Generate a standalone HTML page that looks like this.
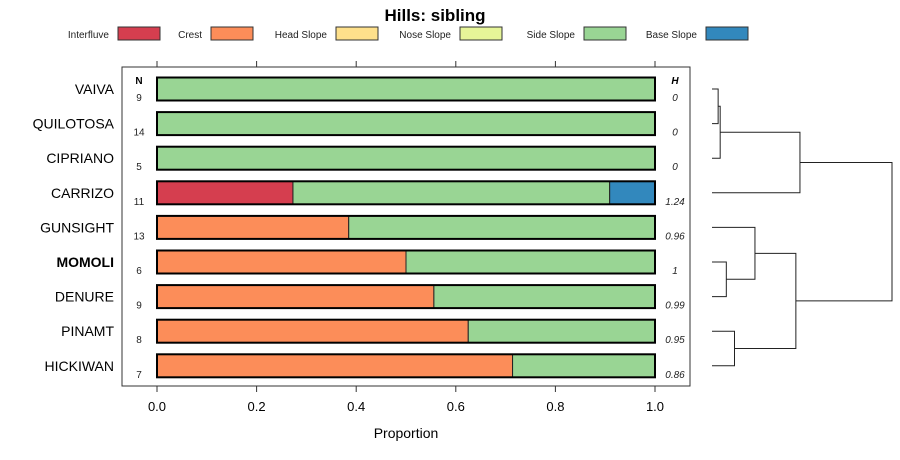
<!DOCTYPE html>
<html><head><meta charset="utf-8"><style>
body{margin:0;background:#fff;}
svg{display:block;font-family:"Liberation Sans",Arial,sans-serif;}
</style></head><body>
<svg id="chart" width="900" height="460" xmlns="http://www.w3.org/2000/svg"></svg>
<script>
const names=["VAIVA","QUILOTOSA","CIPRIANO","CARRIZO","GUNSIGHT","MOMOLI","DENURE","PINAMT","HICKIWAN"];
const nVals=[9,14,5,11,13,6,9,8,7];
const hVals=["0","0","0","1.24","0.96","1","0.99","0.95","0.86"];
const classes=["Interfluve","Crest","Head Slope","Nose Slope","Side Slope","Base Slope"];
const colors=["#D53E4F","#FC8D59","#FEE08B","#E6F598","#99D594","#3288BD"];
const interfluve=[0,0,0,0.273,0,0,0,0,0];
const crest=[0,0,0,0,0.385,0.5,0.556,0.625,0.714];
const headSlope=[0,0,0,0,0,0,0,0,0];
const noseSlope=[0,0,0,0,0,0,0,0,0];
const sideSlope=[1,1,1,0.636,0.615,0.5,0.444,0.375,0.286];
const baseSlope=[0,0,0,0.091,0,0,0,0,0];
const xTicks=[0,0.2,0.4,0.6,0.8,1.0];
const xTickLabels=["0.0","0.2","0.4","0.6","0.8","1.0"];
// dendrogram merges: [left, right, height]; negative = leaf index, positive = merge index (1-based)
const merges=[[-1,-2,0.03],[1,-3,0.04],[2,-4,0.43],[-6,-7,0.07],[-5,4,0.21],[-8,-9,0.11],[5,6,0.41],[3,7,0.88]];

const svg=document.getElementById('chart');
const NS="http://www.w3.org/2000/svg";
function mk(tag,attrs,parent){const e=document.createElementNS(NS,tag);for(const k in attrs)e.setAttribute(k,attrs[k]);(parent||svg).appendChild(e);return e;}
const x0=157,x1=655;
const xs=v=>x0+(x1-x0)*v;
const ys=i=>89+i*34.6;

let t=mk('text',{x:435,y:21,'text-anchor':'middle','font-size':17,'font-weight':'bold'});t.textContent="Hills: sibling";



const legX=[118,211,336,460,584,706];
classes.forEach((c,i)=>{
  const g=mk('g',{});
  
  
  const tt=mk('text',{x:legX[i]-9,y:38,'text-anchor':'end','font-size':10,fill:'#222'},g);tt.textContent=c;
  mk('rect',{x:legX[i],y:27,width:42,height:13,fill:colors[i],stroke:'#333','stroke-width':1},g);
});

const frame=mk('rect',{x:122,y:67,width:568,height:319,fill:'none',stroke:'#333','stroke-width':1});



xTicks.forEach((v,i)=>{
  mk('line',{x1:xs(v),x2:xs(v),y1:61,y2:67,stroke:'#333'});
  mk('line',{x1:xs(v),x2:xs(v),y1:386,y2:392,stroke:'#333'});
  const l=mk('text',{x:xs(v),y:411,'text-anchor':'middle','font-size':13});l.textContent=xTickLabels[i];
  
  
});
t=mk('text',{x:406,y:438,'text-anchor':'middle','font-size':14});t.textContent="Proportion";



t=mk('text',{x:139,y:84,'text-anchor':'middle','font-size':10,'font-weight':'bold'});t.textContent="N";
t=mk('text',{x:675,y:84,'text-anchor':'middle','font-size':10,'font-weight':'bold','font-style':'italic'});t.textContent="H";

const series=[interfluve,crest,headSlope,noseSlope,sideSlope,baseSlope];
names.forEach((n,i)=>{
  const y=ys(i);
  const lab=mk('text',{x:114,y:y+5,'text-anchor':'end','font-size':14,'font-weight':n==="MOMOLI"?'bold':'normal'});lab.textContent=n;
  
  
  const nl=mk('text',{x:139,y:y+12,'text-anchor':'middle','font-size':10,fill:'#222'});nl.textContent=nVals[i];
  
  
  const hl=mk('text',{x:675,y:y+12,'text-anchor':'middle','font-size':10,'font-style':'italic',fill:'#222'});hl.textContent=hVals[i];
  
  
  let cum=0;
  series.forEach((s,k)=>{
    if(s[i]>0){
      const r=mk('rect',{x:xs(cum),y:y-11.5,width:xs(cum+s[i])-xs(cum),height:23,fill:colors[k],stroke:'#222','stroke-width':1});
      
      
      cum+=s[i];
    }
  });
  const ob=mk('rect',{x:xs(0),y:y-11.5,width:xs(cum)-xs(0),height:23,fill:'none',stroke:'#000','stroke-width':2});
  
  
});

// dendrogram
const dx0=712;
const dxs=h=>dx0+180*h/0.88;
const pos=[];
function node(id){if(id<0)return {x:dx0,y:ys(-id-1)};return pos[id-1];}
const dg=mk('g',{});


merges.forEach(m=>{
  const a=node(m[0]),b=node(m[1]),hx=dxs(m[2]);
  mk('path',{d:`M${a.x},${a.y}H${hx}V${b.y}H${b.x}`,fill:'none',stroke:'#222','stroke-width':1},dg);
  pos.push({x:hx,y:(a.y+b.y)/2});
});
</script>
</body></html>
